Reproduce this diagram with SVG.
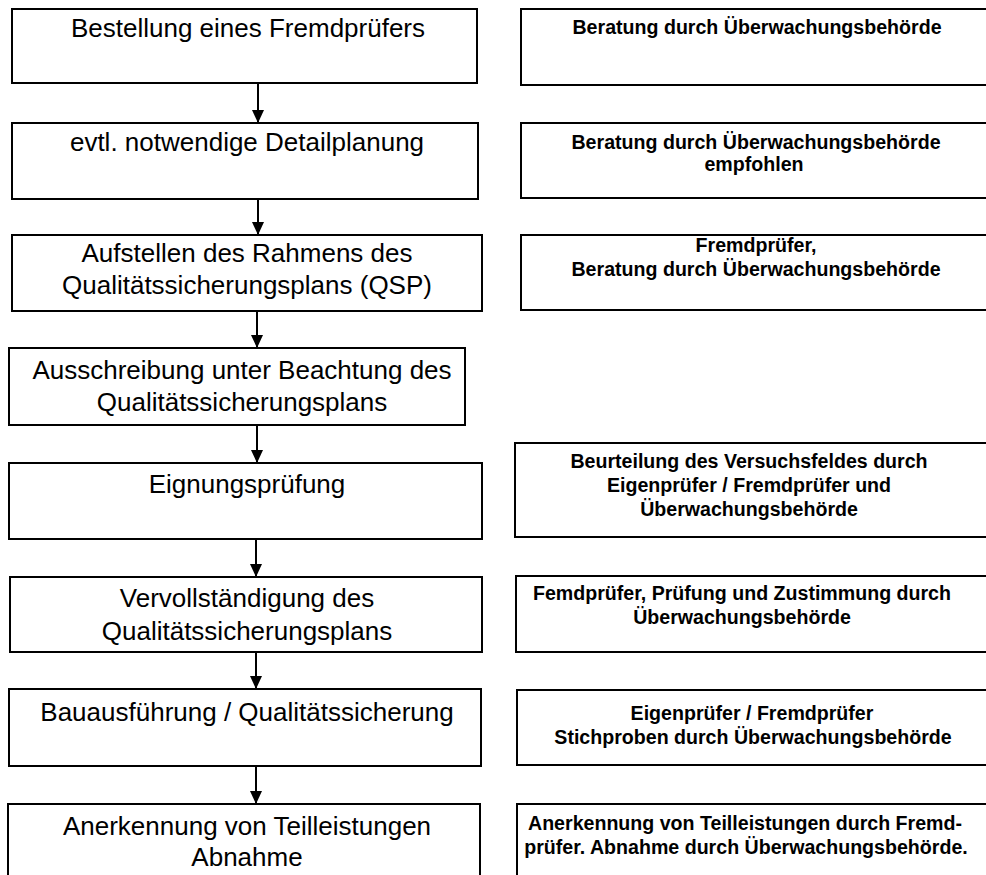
<svg xmlns="http://www.w3.org/2000/svg" width="986" height="875" viewBox="0 0 986 875">
  <style>
    .box { fill: #fff; stroke: #000; stroke-width: 2; }
    .lt { font-family: "Liberation Sans", Arial, sans-serif; font-size: 26px; text-anchor: middle; fill: #000; }
    .rt { font-family: "Liberation Sans", Arial, sans-serif; font-size: 19.6px; font-weight: bold; text-anchor: middle; fill: #000; }
    .flow { stroke: #000; stroke-width: 2; fill: none; marker-end: url(#arrow); }
  </style>
  <defs>
    <marker id="arrow" markerUnits="userSpaceOnUse" markerWidth="13" markerHeight="12" viewBox="0 0 13 12" refX="13" refY="6" orient="auto">
      <path d="M0,0 L13,6 L0,12 z" fill="#000"/>
    </marker>
  </defs>
  <rect width="986" height="875" fill="#fff"/>

  <!-- process steps (left column) -->
  <g id="step1">
    <rect class="box" x="12" y="9" width="465" height="74"/>
    <text class="lt" x="248" y="37">Bestellung eines Fremdprüfers</text>
  </g>
  <g id="step2">
    <rect class="box" x="12" y="123" width="466" height="76"/>
    <text class="lt" x="247" y="151">evtl. notwendige Detailplanung</text>
  </g>
  <g id="step3">
    <rect class="box" x="12" y="235" width="470" height="76"/>
    <text class="lt" x="247" y="262">Aufstellen des Rahmens des</text>
    <text class="lt" x="247" y="294">Qualitätssicherungsplans (QSP)</text>
  </g>
  <g id="step4">
    <rect class="box" x="9" y="348" width="456" height="77"/>
    <text class="lt" x="242" y="379">Ausschreibung unter Beachtung des</text>
    <text class="lt" x="242" y="411">Qualitätssicherungsplans</text>
  </g>
  <g id="step5">
    <rect class="box" x="9" y="463" width="473" height="76"/>
    <text class="lt" x="247" y="493">Eignungsprüfung</text>
  </g>
  <g id="step6">
    <rect class="box" x="10" y="577" width="472" height="75"/>
    <text class="lt" x="247" y="607">Vervollständigung des</text>
    <text class="lt" x="247" y="640">Qualitätssicherungsplans</text>
  </g>
  <g id="step7">
    <rect class="box" x="9" y="689" width="472" height="77"/>
    <text class="lt" x="247" y="721">Bauausführung / Qualitätssicherung</text>
  </g>
  <g id="step8">
    <rect class="box" x="8" y="804" width="472" height="80"/>
    <text class="lt" x="247" y="835">Anerkennung von Teilleistungen</text>
    <text class="lt" x="247" y="866">Abnahme</text>
  </g>

  <!-- responsibilities (right column) -->
  <g id="note1">
    <rect class="box" x="521" y="9" width="470" height="76"/>
    <text class="rt" x="757" y="34">Beratung durch Überwachungsbehörde</text>
  </g>
  <g id="note2">
    <rect class="box" x="521" y="123" width="470" height="75"/>
    <text class="rt" x="756" y="149">Beratung durch Überwachungsbehörde</text>
    <text class="rt" x="754" y="171">empfohlen</text>
  </g>
  <g id="note3">
    <rect class="box" x="521" y="235" width="470" height="75"/>
    <text class="rt" x="756" y="252">Fremdprüfer,</text>
    <text class="rt" x="756" y="276">Beratung durch Überwachungsbehörde</text>
  </g>
  <g id="note5">
    <rect class="box" x="515" y="443" width="476" height="94"/>
    <text class="rt" x="749" y="468">Beurteilung des Versuchsfeldes durch</text>
    <text class="rt" x="749" y="492">Eigenprüfer / Fremdprüfer und</text>
    <text class="rt" x="749" y="516">Überwachungsbehörde</text>
  </g>
  <g id="note6">
    <rect class="box" x="516" y="576" width="475" height="76"/>
    <text class="rt" x="742" y="600">Femdprüfer, Prüfung und Zustimmung durch</text>
    <text class="rt" x="742" y="624">Überwachungsbehörde</text>
  </g>
  <g id="note7">
    <rect class="box" x="517" y="690" width="474" height="75"/>
    <text class="rt" x="752" y="720">Eigenprüfer / Fremdprüfer</text>
    <text class="rt" x="753" y="744">Stichproben durch Überwachungsbehörde</text>
  </g>
  <g id="note8">
    <rect class="box" x="517" y="804" width="474" height="80"/>
    <text class="rt" x="745" y="830">Anerkennung von Teilleistungen durch Fremd-</text>
    <text class="rt" x="746" y="854">prüfer. Abnahme durch Überwachungsbehörde.</text>
  </g>

  <!-- connectors -->
  <g id="connectors">
    <line class="flow" x1="258" y1="83" x2="258" y2="123"/>
    <line class="flow" x1="258" y1="199" x2="258" y2="235"/>
    <line class="flow" x1="257" y1="311" x2="257" y2="348"/>
    <line class="flow" x1="257" y1="425" x2="257" y2="463"/>
    <line class="flow" x1="256" y1="539" x2="256" y2="577"/>
    <line class="flow" x1="256" y1="652" x2="256" y2="689"/>
    <line class="flow" x1="256" y1="766" x2="256" y2="804"/>
  </g>
</svg>
